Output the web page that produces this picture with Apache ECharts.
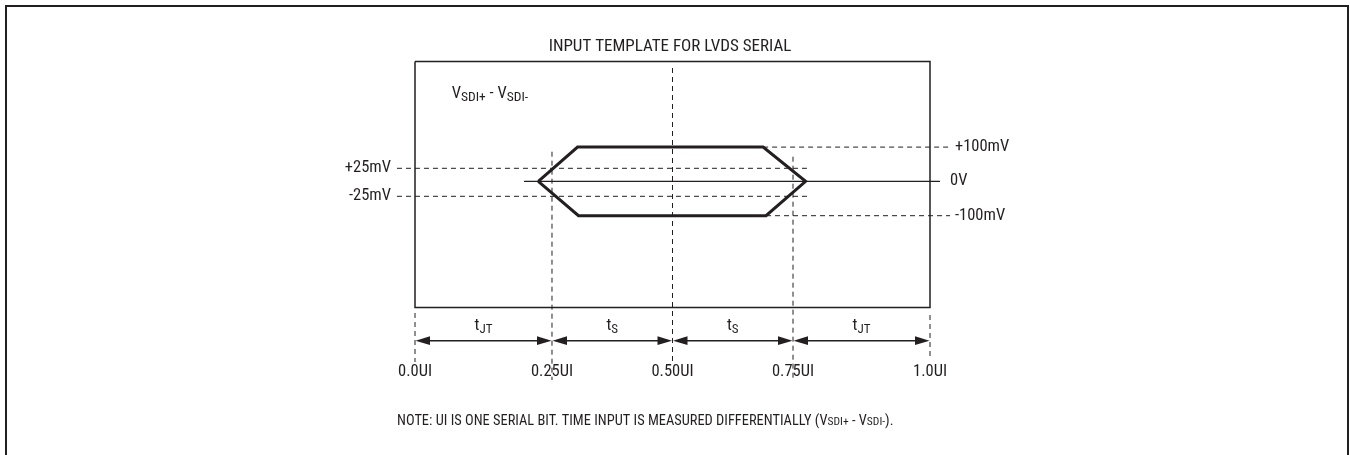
<!DOCTYPE html>
<html><head><meta charset="utf-8">
<script src="https://cdn.jsdelivr.net/npm/echarts@6/dist/echarts.min.js"></script>
<style>html,body{margin:0;padding:0;background:#fff}#c{width:1350px;height:455px}</style>
</head><body><div id="c"></div>
<script>
// ================= DATA =================
const timeTicks = [0, 0.25, 0.5, 0.75, 1.0];                 // UI
const timeTickLabels = ['0.0UI', '0.25UI', '0.50UI', '0.75UI', '1.0UI'];
const spanSubscripts = ['JT', 'S', 'S', 'JT'];               // t_JT, t_S, t_S, t_JT
const innerLevels = [25, -25];                               // mV
const innerLevelLabels = ['+25mV', '-25mV'];
const outerLevels = [100, 0, -100];                          // mV
const outerLevelLabels = ['+100mV', '0V', '-100mV'];
// input template (mask) vertices
const maskTimes = [0.225, 0.303, 0.688, 0.773, 0.694, 0.305, 0.225];   // UI
const maskVolts = [0, 100, 100, 0, -100, -100, 0];                     // mV
const titleText = 'INPUT TEMPLATE FOR LVDS SERIAL';
const noteText = 'NOTE: UI IS ONE SERIAL BIT. TIME INPUT IS MEASURED DIFFERENTIALLY (V{s|SDI+} - V{s|SDI-}).';
const signalText = 'V{s|SDI+} - V{s|SDI-}';

// ================= LAYOUT (schematic, not to scale) =================
const C = '#231f20';
const FONT = '"Liberation Sans Narrow","Arial Narrow","Roboto Condensed","DejaVu Sans Condensed",sans-serif';
// schematic scale: the drawing is not linear, so anchors map real values to drawing units
const X_ANCHOR = [[0, 0.25, 0.5, 0.75, 1], [0, 0.266, 0.5, 0.734, 1]];
const Y_ANCHOR = [[-100, -25, 0, 25, 100], [-34.4, -15, 0, 13, 34.2]];
function warp(v, a) {
  const s = a[0], d = a[1];
  let i = 0;
  while (i < s.length - 2 && v > s[i + 1]) i++;
  return d[i] + (v - s[i]) * (d[i + 1] - d[i]) / (s[i + 1] - s[i]);
}
const tx = ui => warp(ui, X_ANCHOR);
const vy = mv => warp(mv, Y_ANCHOR);
const L = {
  boxTop: 119.8, boxBot: -126.2,
  arrowRow: -159.4, spanLabelRow: -145, tickLabelRow: -190.5,
  g25: [-0.035, 0.763], g100End: 1.039, zeroLine: [0.2117, 1.0194],
  leftLabelX: -0.0466, rightLabelX: [1.0485, 1.0388, 1.0485],
  vGuides: [[-131.7, -180.7], [29.6, -198.7], [113.3, -180.7], [24.6, -198.7], [-133.7, -175.7]],
  signalPos: [0.0713, 87]
};

const series = [];
function seg(pts, width, dash) {
  series.push({
    type: 'line', data: pts, symbol: 'none', silent: true, animation: false,
    lineStyle: { color: C, width: width, type: dash ? [5, 4] : 'solid', join: 'miter' },
    z: dash ? 1 : 3
  });
}
// inner box
seg([[tx(0), L.boxTop], [tx(1), L.boxTop], [tx(1), L.boxBot], [tx(0), L.boxBot], [tx(0), L.boxTop]], 1.5, false);
// +/-25mV guides
innerLevels.forEach(mv => seg([[L.g25[0], vy(mv)], [L.g25[1], vy(mv)]], 1, true));
// +/-100mV guides from mask corners
seg([[tx(maskTimes[2]), vy(100)], [L.g100End, vy(100)]], 1, true);
seg([[tx(maskTimes[4]), vy(-100)], [L.g100End, vy(-100)]], 1, true);
// 0V line
seg([[L.zeroLine[0], vy(0)], [L.zeroLine[1], vy(0)]], 1.2, false);
// vertical time guides
timeTicks.forEach((t, i) => seg([[tx(t), L.vGuides[i][0]], [tx(t), L.vGuides[i][1]]], 1, true));
// mask
series.push({
  type: 'line', data: maskTimes.map((t, i) => [tx(t), vy(maskVolts[i])]), symbol: 'none', silent: true,
  lineStyle: { color: C, width: 3, join: 'miter' }, z: 5
});
// dimension arrows
const spans = spanSubscripts.map((s, i) => [tx(timeTicks[i]), tx(timeTicks[i + 1]), L.arrowRow]);
series.push({
  type: 'custom', data: spans, encode: { x: [0, 1], y: 2 }, silent: true, z: 4,
  renderItem: function (p, api) {
    const a = api.coord([api.value(0), api.value(2)]);
    const b = api.coord([api.value(1), api.value(2)]);
    const AL = 15, AH = 4.4;
    return { type: 'group', children: [
      { type: 'line', shape: { x1: a[0] + AL - 1, y1: a[1], x2: b[0] - AL + 1, y2: b[1] }, style: { stroke: C, lineWidth: 1.5 } },
      { type: 'polygon', shape: { points: [[a[0] + 0.5, a[1]], [a[0] + AL, a[1] - AH], [a[0] + AL, a[1] + AH]] }, style: { fill: C } },
      { type: 'polygon', shape: { points: [[b[0] - 0.5, b[1]], [b[0] - AL, b[1] - AH], [b[0] - AL, b[1] + AH]] }, style: { fill: C } }
    ] };
  }
});
function textSeries(points, texts, align, size, rich) {
  series.push({
    type: 'custom', data: points, encode: { x: 0, y: 1 }, silent: true, z: 6,
    renderItem: function (p, api) {
      const c = api.coord([api.value(0), api.value(1)]);
      return { type: 'text', x: c[0], y: c[1], style: {
        text: texts[p.dataIndex], fill: C, fontFamily: FONT, fontSize: size,
        align: align, verticalAlign: 'middle', rich: rich || undefined } };
    }
  });
}
const subRich = (main, sub, mainLH, subLH) => ({
  m: { fontFamily: FONT, fontSize: main, fill: C, lineHeight: mainLH },
  s: { fontFamily: FONT, fontSize: sub, fill: C, lineHeight: subLH, verticalAlign: 'bottom' }
});
textSeries(timeTicks.map(t => [tx(t), L.tickLabelRow]), timeTickLabels, 'center', 16.5);
textSeries(spans.map(s => [(s[0] + s[1]) / 2, L.spanLabelRow]), spanSubscripts.map(s => '{m|t}{s|' + s + '}'), 'center', 16.5, subRich(16.5, 13, 20, 15));
textSeries(innerLevels.map(mv => [L.leftLabelX, vy(mv)]), innerLevelLabels, 'right', 16.5);
textSeries(outerLevels.map((mv, i) => [L.rightLabelX[i], vy(mv)]), outerLevelLabels, 'left', 16.5);
textSeries([L.signalPos], [signalText.replace(/V\{/g, '{m|V}{').replace(' - ', '{m| - }')], 'left', 16.5, subRich(16.5, 13.5, 20, 13));

const chart = echarts.init(document.getElementById('c'), null, { renderer: 'canvas' });
chart.setOption({
  animation: false,
  backgroundColor: '#fff',
  grid: { left: 0, right: 0, top: 0, bottom: 0, containLabel: false },
  xAxis: { type: 'value', min: -415 / 515, max: 935 / 515, show: false },
  yAxis: { type: 'value', min: -273.7, max: 181.3, show: false },
  graphic: [
    { type: 'rect', shape: { x: 6, y: 6, width: 1342, height: 470 }, style: { fill: 'none', stroke: C, lineWidth: 2 }, silent: true },
    { type: 'text', x: 670, y: 46.5, style: { text: titleText, fill: C, fontFamily: FONT, fontSize: 17, align: 'center', verticalAlign: 'middle' } },
    { type: 'text', x: 397, y: 421, style: { text: noteText, fill: C, fontFamily: FONT, fontSize: 14.4, align: 'left', verticalAlign: 'middle',
      rich: { s: { fontFamily: FONT, fontSize: 11.5, fill: C, lineHeight: 13, verticalAlign: 'bottom' } } } }
  ],
  series: series
});
</script>
</body></html>
